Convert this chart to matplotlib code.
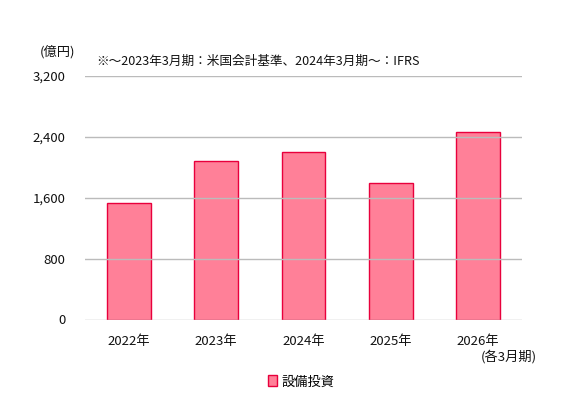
import numpy as np
import matplotlib
matplotlib.use('Agg')
import matplotlib.pyplot as plt

plt.rcParams['font.family'] = ['Noto Sans CJK JP', 'DejaVu Sans']

years = ['2022年', '2023年', '2024年', '2025年', '2026年']
capex = [1530, 2080, 2200, 1800, 2470]
yticks = [0, 800, 1600, 2400, 3200]

fig = plt.figure(figsize=(5.68, 4.17), dpi=100)
ax = fig.add_axes([85 / 568, 1 - 319.5 / 417, (521.7 - 85) / 568, 243.5 / 417])

x = np.arange(len(years))
ax.bar(x, capex, width=0.5, color='#FF8098', edgecolor='#E8003C', linewidth=1.0,
       label='設備投資', zorder=1)

ax.set_xlim(-0.5, len(years) - 0.5)
ax.set_ylim(0, 3200)
ax.set_yticks(yticks)
ax.set_yticklabels([f'{v:,}' for v in yticks])
ax.set_xticks(x)
ax.set_xticklabels(years)
ax.yaxis.grid(True, color='#BBBBBB', linewidth=1.0, zorder=2)
ax.set_axisbelow(False)
for s in ax.spines.values():
    s.set_visible(False)
ax.tick_params(length=0, labelsize=9.5, colors='#111111')
ax.tick_params(axis='y', pad=14)
ax.tick_params(axis='x', pad=11)

fig.text(40 / 568, 1 - 52 / 417, '(億円)', fontsize=9.5, va='center', color='#111111')
fig.text(96 / 568, 1 - 61 / 417, '※～2023年3月期：米国会計基準、2024年3月期～：IFRS',
         fontsize=9.1, va='center', color='#111111')
fig.text(537 / 568, 1 - 357 / 417, '(各3月期)', fontsize=9.5, va='center', ha='right',
         color='#111111')

ax.legend(loc='center', bbox_to_anchor=(301 / 568, 1 - 382 / 417),
          bbox_transform=fig.transFigure, frameon=False, fontsize=9.5,
          handlelength=0.7, handleheight=0.9, handletextpad=0.3)

fig.savefig('out.png', dpi=100)
